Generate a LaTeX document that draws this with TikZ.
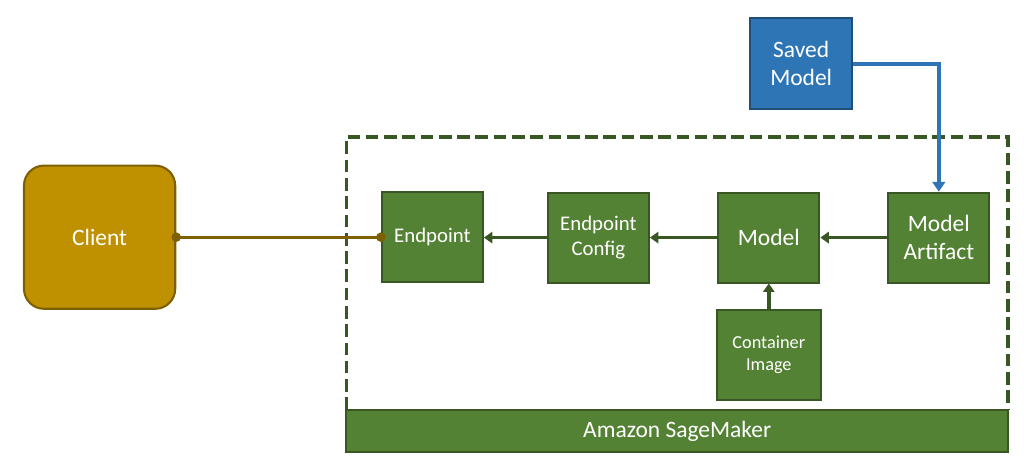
\documentclass[tikz,border=0pt]{standalone}
\usepackage{fontspec}
\setmainfont{Carlito}
\usepackage{tikz}
\usetikzlibrary{arrows.meta,positioning}
\usepackage{xcolor}
\definecolor{smgreen}{RGB}{84,130,53}
\definecolor{smdark}{RGB}{56,87,35}
\definecolor{clgold}{RGB}{191,144,0}
\definecolor{cldark}{RGB}{127,96,0}
\definecolor{svblue}{RGB}{46,117,182}
\definecolor{svdark}{RGB}{31,78,121}
\tikzstyle{smbox} = [draw=smdark,fill=smgreen,line width=1.3pt,text=white,align=center,minimum width=2.53cm,minimum height=2.25cm,inner sep=0pt]
\tikzstyle{greenarrow} = [line width=2.6pt,-{Triangle[length=6pt,width=8pt]},color=smdark]
\newcommand{\bigtxt}{\fontsize{16.7}{20}\selectfont}
\newcommand{\midtxt}{\fontsize{14.8}{18.4}\selectfont}
\newcommand{\smalltxt}{\fontsize{13}{15.8}\selectfont}

\begin{document}
\begin{tikzpicture}
\useasboundingbox (0,0) rectangle (25.6,11.5);

% SageMaker frame
\draw[smdark, line width=2.5pt, dash pattern=on 9pt off 4pt] (8.66,1.25) -- (8.66,8.075) -- (25.2,8.075) -- (25.2,1.25);
\node[draw=smdark, fill=smgreen, line width=1.3pt, minimum width=16.54cm, minimum height=1.05cm, inner sep=0pt, text=white, font=\bigtxt] (sagemaker) at (16.93,0.725) {Amazon SageMaker};

% Client
\node[draw=cldark, fill=clgold, line width=1.5pt, rounded corners=0.5cm, minimum width=3.78cm, minimum height=3.58cm, text=white, font=\bigtxt] (client) at (2.49,5.57) {Client};

% Boxes
\node[smbox, font=\midtxt] (endpoint) at (10.81,5.57) {Endpoint};
\node[smbox, font=\midtxt] (config) at (14.96,5.56) {Endpoint\\Config};
\node[smbox, font=\bigtxt] (model) at (19.22,5.56) {Model};
\node[smbox, font=\bigtxt] (artifact) at (23.47,5.56) {Model\\Artifact};
\node[smbox, font=\smalltxt, minimum width=2.6cm] (container) at (19.22,2.625) {Container\\Image};

% Saved model
\node[draw=svdark, fill=svblue, line width=1.5pt, minimum width=2.55cm, minimum height=2.28cm, inner sep=0pt, align=center, text=white, font=\bigtxt] (saved) at (20.03,9.91) {Saved\\Model};

% Connectors
\draw[cldark, line width=2.2pt] (client.east) -- (endpoint.west);
\fill[cldark] (client.east) circle (3.4pt);
\fill[cldark] (endpoint.west) circle (3.4pt);
\draw[greenarrow] (artifact) -- (model);
\draw[greenarrow] (model) -- (config);
\draw[greenarrow] (config.west) -- (config.west -| endpoint.east);
\draw[greenarrow] (container) -- (model);
\draw[svblue, line width=2.8pt, -{Triangle[length=7pt,width=9pt]}] (saved.east) -| (artifact.north);
\end{tikzpicture}
\end{document}
